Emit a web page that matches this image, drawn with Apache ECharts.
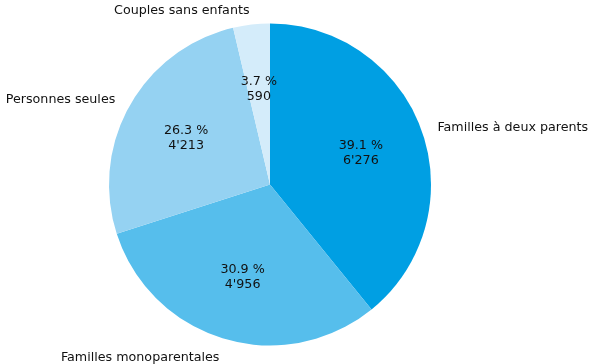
<!DOCTYPE html>
<html><head><meta charset="utf-8">
<script src="https://cdn.jsdelivr.net/npm/echarts@6/dist/echarts.min.js"></script>
<style>html,body{margin:0;padding:0;background:#fff}#c{width:595px;height:364px}</style>
</head><body><div id="c"></div>
<script>
const categories = ["Familles à deux parents", "Familles monoparentales", "Personnes seules", "Couples sans enfants"];
const values = [6276, 4956, 4213, 590];
const percents = ["39.1", "30.9", "26.3", "3.7"];
const countLabels = ["6'276", "4'956", "4'213", "590"];
const colors = ["#009FE3", "#56BEEC", "#95D2F2", "#D4ECFA"];

const R = 161;
const center = [270, 184.5];
const fontSize = 12.7;
const font = {fontFamily: "DejaVu Sans", fontSize: fontSize, color: "#111"};

// measure text to emulate left/right alignment of outer labels
const ctx = document.createElement('canvas').getContext('2d');
ctx.font = fontSize + "px 'DejaVu Sans'";
let acc = 0;
const total = values.reduce((a, b) => a + b, 0);
const offsets = values.map((v, i) => {
  const mid = (acc + v / 2) / total * 2 * Math.PI; acc += v;
  const w = ctx.measureText(categories[i]).width;
  return [Math.sin(mid) >= 0 ? w / 2 : -w / 2, 2.5];
});

const chart = echarts.init(document.getElementById('c'), null, {renderer: 'canvas'});
chart.setOption({
  animation: false,
  series: [
    {
      type: 'pie', center: center, radius: [0, R], startAngle: 90, clockwise: true,
      silent: true, label: {show: false}, labelLine: {show: false},
      data: categories.map((c, i) => ({name: c, value: values[i], itemStyle: {color: colors[i]}}))
    },
    {
      type: 'pie', center: center, radius: [0.16 * R, R], startAngle: 90, clockwise: true,
      silent: true, itemStyle: {color: 'transparent'},
      label: Object.assign({show: true, position: 'inside', lineHeight: 15, align: 'center', offset: [0, 0.8]}, font),
      data: categories.map((c, i) => ({name: c, value: values[i],
        label: {formatter: percents[i] + " %\n" + countLabels[i]}}))
    },
    {
      type: 'pie', center: center, radius: [R, 1.17 * R], startAngle: 90, clockwise: true,
      silent: true, itemStyle: {color: 'transparent'},
      label: Object.assign({show: true, position: 'inside'}, font),
      data: categories.map((c, i) => ({name: c, value: values[i],
        label: {formatter: c, offset: offsets[i]}}))
    }
  ]
});
</script></body></html>
